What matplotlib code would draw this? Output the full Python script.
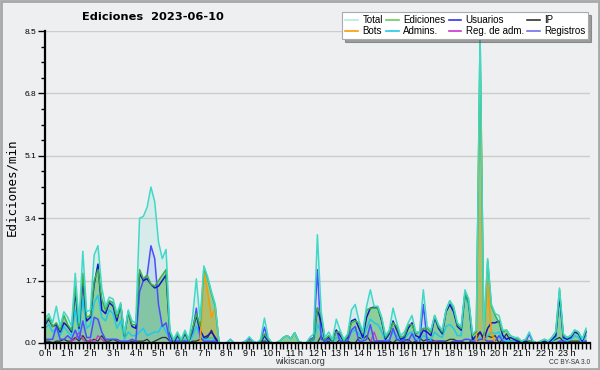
import matplotlib
matplotlib.use("Agg")
import matplotlib.pyplot as plt
import numpy as np
from matplotlib.patches import Rectangle
from matplotlib.ticker import MultipleLocator

# 10-minute samples, 6 per hour, 0 h .. 23 h 50
total = [
    0.65, 0.8, 0.55, 1.0, 0.45, 0.85,
    0.7, 0.45, 1.9, 0.55, 2.5, 0.85,
    0.9, 2.4, 2.65, 1.5, 1.0, 1.25,
    1.2, 0.8, 1.1, 0.25, 0.9, 0.6,
    0.55, 3.4, 3.45, 3.7, 4.25, 3.85,
    2.75, 2.3, 2.55, 0.35, 0.1, 0.3,
    0.1, 0.35, 0.1, 0.7, 1.75, 0.6,
    2.1, 1.8, 1.4, 1.05, 0.0, 0.0,
    0.0, 0.1, 0.0, 0.0, 0.0, 0.05,
    0.17, 0.05, 0.0, 0.1, 0.68, 0.15,
    0.0, 0.0, 0.05, 0.15, 0.2, 0.12,
    0.28, 0.05, 0.0, 0.0, 0.15, 0.25,
    2.95, 0.85, 0.15, 0.3, 0.1, 0.65,
    0.35, 0.1, 0.25, 0.9, 1.05, 0.6,
    0.3, 1.0, 1.45, 1.0, 1.0, 0.7,
    0.2, 0.35, 0.95, 0.55, 0.2, 0.3,
    0.55, 0.75, 0.3, 0.3, 1.45, 0.45,
    0.35, 0.75, 0.5, 0.35, 0.9, 1.15,
    1.0, 0.55, 0.45, 1.45, 1.2, 0.25,
    0.35, 8.45, 0.3, 2.3, 1.05, 0.8,
    0.75, 0.35, 0.35, 0.2, 0.15, 0.15,
    0.05, 0.1, 0.3, 0.05, 0.0, 0.05,
    0.1, 0.05, 0.15, 0.3, 1.5, 0.25,
    0.15, 0.2, 0.35, 0.3, 0.1, 0.4,
]
ediciones = [
    0.55, 0.7, 0.45, 0.55, 0.35, 0.75,
    0.5, 0.35, 1.55, 0.45, 1.9, 0.7,
    0.75, 1.7, 2.0, 1.2, 0.9, 1.15,
    1.1, 0.7, 1.05, 0.2, 0.85, 0.5,
    0.5, 2.0, 1.75, 1.85, 1.6, 1.55,
    1.7, 1.85, 2.0, 0.3, 0.05, 0.25,
    0.05, 0.3, 0.05, 0.4, 0.8, 0.45,
    2.05, 1.75, 1.35, 1.0, 0.0, 0.0,
    0.0, 0.0, 0.0, 0.0, 0.0, 0.0,
    0.05, 0.0, 0.0, 0.05, 0.25, 0.1,
    0.0, 0.0, 0.05, 0.15, 0.2, 0.12,
    0.28, 0.05, 0.0, 0.0, 0.05, 0.1,
    0.95, 0.75, 0.1, 0.2, 0.05, 0.3,
    0.3, 0.05, 0.2, 0.55, 0.6, 0.55,
    0.25, 0.9, 0.95, 0.95, 0.95, 0.65,
    0.15, 0.3, 0.55, 0.45, 0.15, 0.2,
    0.5, 0.5, 0.25, 0.3, 0.4, 0.4,
    0.3, 0.75, 0.45, 0.3, 0.9, 1.15,
    0.95, 0.5, 0.4, 1.35, 1.1, 0.2,
    0.3, 8.35, 0.2, 2.25, 1.0, 0.75,
    0.55, 0.3, 0.35, 0.2, 0.15, 0.1,
    0.05, 0.1, 0.05, 0.05, 0.0, 0.05,
    0.1, 0.05, 0.15, 0.3, 1.45, 0.2,
    0.15, 0.2, 0.35, 0.3, 0.1, 0.35,
]
usuarios = [
    0.5, 0.65, 0.45, 0.5, 0.3, 0.55,
    0.45, 0.3, 1.4, 0.4, 1.7, 0.6,
    0.7, 1.6, 2.15, 0.9, 0.8, 1.1,
    1.0, 0.6, 1.05, 0.2, 0.85, 0.45,
    0.4, 1.9, 1.7, 1.75, 1.6, 1.5,
    1.55, 1.7, 1.85, 0.25, 0.0, 0.2,
    0.05, 0.25, 0.05, 0.35, 0.75, 0.35,
    0.15, 0.2, 0.3, 0.15, 0.0, 0.0,
    0.0, 0.0, 0.0, 0.0, 0.0, 0.0,
    0.05, 0.0, 0.0, 0.0, 0.2, 0.05,
    0.0, 0.0, 0.0, 0.0, 0.0, 0.0,
    0.0, 0.0, 0.0, 0.0, 0.05, 0.1,
    0.95, 0.55, 0.1, 0.15, 0.05, 0.35,
    0.2, 0.05, 0.15, 0.6, 0.65, 0.4,
    0.15, 0.7, 0.95, 0.98, 0.95, 0.6,
    0.1, 0.25, 0.6, 0.35, 0.1, 0.15,
    0.4, 0.55, 0.2, 0.15, 0.35, 0.3,
    0.2, 0.7, 0.4, 0.25, 0.85, 1.05,
    0.85, 0.45, 0.35, 1.35, 1.1, 0.1,
    0.2, 0.3, 0.1, 0.4, 0.55, 0.55,
    0.6, 0.2, 0.1, 0.15, 0.1, 0.05,
    0.0, 0.05, 0.05, 0.0, 0.0, 0.0,
    0.05, 0.0, 0.1, 0.2, 1.3, 0.15,
    0.1, 0.15, 0.3, 0.25, 0.05, 0.3,
]
ip = [
    0.05, 0.05, 0.0, 0.05, 0.05, 0.1,
    0.05, 0.05, 0.15, 0.05, 0.2, 0.05,
    0.05, 0.1, 0.05, 0.2, 0.05, 0.05,
    0.1, 0.05, 0.0, 0.0, 0.0, 0.05,
    0.05, 0.05, 0.05, 0.1, 0.0, 0.05,
    0.1, 0.15, 0.15, 0.05, 0.05, 0.05,
    0.0, 0.05, 0.0, 0.05, 0.05, 0.1,
    0.1, 0.15, 0.35, 0.1, 0.0, 0.0,
    0.0, 0.0, 0.0, 0.0, 0.0, 0.0,
    0.0, 0.0, 0.0, 0.05, 0.05, 0.05,
    0.0, 0.0, 0.05, 0.15, 0.2, 0.12,
    0.28, 0.05, 0.0, 0.0, 0.0, 0.0,
    0.0, 0.2, 0.0, 0.05, 0.0, 0.0,
    0.1, 0.0, 0.05, 0.0, 0.0, 0.15,
    0.1, 0.2, 0.05, 0.0, 0.05, 0.05,
    0.05, 0.05, 0.0, 0.1, 0.05, 0.05,
    0.1, 0.0, 0.05, 0.15, 0.05, 0.1,
    0.1, 0.05, 0.05, 0.05, 0.05, 0.1,
    0.1, 0.05, 0.05, 0.0, 0.0, 0.1,
    0.1, 0.3, 0.1, 0.2, 0.15, 0.2,
    0.0, 0.1, 0.25, 0.05, 0.05, 0.05,
    0.05, 0.05, 0.0, 0.05, 0.0, 0.05,
    0.05, 0.05, 0.05, 0.1, 0.15, 0.05,
    0.05, 0.05, 0.05, 0.05, 0.05, 0.05,
]
bots = [0.0] * 42 + [1.9, 1.4, 0.7, 0.95, 0.0, 0.0] + [0.0] * 66 + \
       [0.0, 7.75, 0.05, 1.65, 0.3, 0.0] + [0.0] * 24
admins = [
    0.4, 0.5, 0.3, 0.4, 0.2, 0.45,
    0.3, 0.2, 0.9, 0.3, 1.2, 0.4,
    0.5, 1.1, 1.3, 0.7, 0.6, 0.9,
    0.8, 0.4, 0.6, 0.1, 0.3, 0.2,
    0.2, 0.3, 0.4, 0.2, 0.25, 0.3,
    0.3, 0.5, 0.3, 0.1, 0.0, 0.1,
    0.0, 0.1, 0.0, 0.2, 0.45, 0.2,
    0.1, 0.1, 0.15, 0.05, 0.0, 0.0,
    0.0, 0.0, 0.0, 0.0, 0.0, 0.0,
    0.0, 0.0, 0.0, 0.0, 0.2, 0.0,
    0.0, 0.0, 0.0, 0.0, 0.0, 0.0,
    0.0, 0.0, 0.0, 0.0, 0.0, 0.05,
    0.5, 0.3, 0.05, 0.1, 0.0, 0.15,
    0.1, 0.0, 0.1, 0.3, 0.35, 0.25,
    0.1, 0.4, 0.65, 0.55, 0.5, 0.3,
    0.05, 0.1, 0.3, 0.2, 0.05, 0.1,
    0.25, 0.3, 0.1, 0.1, 0.2, 0.15,
    0.1, 0.3, 0.2, 0.15, 0.45, 0.5,
    0.4, 0.2, 0.2, 1.3, 1.0, 0.05,
    0.1, 0.15, 0.05, 0.2, 0.3, 0.25,
    0.3, 0.1, 0.05, 0.05, 0.05, 0.0,
    0.0, 0.0, 0.0, 0.0, 0.0, 0.0,
    0.0, 0.0, 0.05, 0.15, 1.35, 0.1,
    0.05, 0.1, 0.2, 0.15, 0.0, 0.2,
]
reg_adm = [0.0] * 6 + [0.0, 0.05, 0.1, 0.3, 0.1, 0.0] + \
          [0.1, 0.0, 0.2, 0.1, 0.0, 0.0] + [0.0] * 66 + \
          [0.0, 0.0, 0.0, 0.3, 0.0, 0.0] + [0.0] * 12 + \
          [0.0, 0.05, 0.0, 0.0, 0.0, 0.0] + [0.0] * 36
registros = [
    0.1, 0.1, 0.1, 0.45, 0.1, 0.1,
    0.2, 0.1, 0.35, 0.1, 0.6, 0.15,
    0.15, 0.7, 0.65, 0.3, 0.1, 0.1,
    0.1, 0.1, 0.05, 0.05, 0.05, 0.1,
    0.05, 1.4, 1.7, 1.85, 2.65, 2.3,
    1.05, 0.45, 0.55, 0.05, 0.05, 0.05,
    0.05, 0.05, 0.05, 0.3, 0.95, 0.15,
    0.05, 0.05, 0.05, 0.05, 0.0, 0.0,
    0.0, 0.1, 0.0, 0.0, 0.0, 0.05,
    0.12, 0.05, 0.0, 0.05, 0.43, 0.05,
    0.0, 0.0, 0.0, 0.0, 0.0, 0.0,
    0.0, 0.0, 0.0, 0.0, 0.1, 0.15,
    2.0, 0.1, 0.05, 0.1, 0.05, 0.35,
    0.05, 0.05, 0.05, 0.35, 0.45, 0.05,
    0.05, 0.1, 0.5, 0.05, 0.05, 0.05,
    0.05, 0.05, 0.4, 0.1, 0.05, 0.1,
    0.05, 0.25, 0.05, 0.0, 1.05, 0.05,
    0.05, 0.0, 0.05, 0.05, 0.0, 0.0,
    0.05, 0.05, 0.05, 0.1, 0.1, 0.05,
    0.05, 0.1, 0.1, 0.05, 0.05, 0.05,
    0.2, 0.05, 0.0, 0.0, 0.0, 0.05,
    0.0, 0.0, 0.25, 0.0, 0.0, 0.0,
    0.0, 0.0, 0.0, 0.0, 0.05, 0.05,
    0.0, 0.0, 0.0, 0.0, 0.0, 0.05,
]
hour_labels = [f"{h} h" for h in range(24)]
y_ticks = [0.0, 1.7, 3.4, 5.1, 6.8, 8.5]

n = len(total)
t = np.arange(n) / 6.0

SANS = "Liberation Sans"
BG = "#eeeff0"
fig = plt.figure(figsize=(6, 3.7), dpi=100, facecolor=BG)
ax = fig.add_axes([0.075, 0.073, 0.908, 0.843], facecolor=BG)

C_TOTAL = "#3fd9c9"
C_ED = "#3cb043"
C_USU = "#1414c8"
C_IP = "#333333"
C_BOT = "#ff9900"
C_ADM = "#22c8e8"
C_RADM = "#cc33cc"
C_REG = "#4d4dff"

ax.fill_between(t, total, color=C_TOTAL, alpha=0.13, lw=0)
ax.fill_between(t, ediciones, color=C_ED, alpha=0.48, lw=0)
ax.fill_between(t, registros, color="#4d7fff", alpha=0.12, lw=0)
ax.fill_between(t, bots, color=C_BOT, alpha=0.3, lw=0)

lw = 1.1
ax.plot(t, ip, color=C_IP, lw=0.9)
ax.plot(t, reg_adm, color=C_RADM, lw=0.9)
ax.plot(t, admins, color=C_ADM, lw=lw)
ax.plot(t, registros, color=C_REG, lw=lw)
ax.plot(t, usuarios, color=C_USU, lw=lw)
ax.plot(t, bots, color=C_BOT, lw=lw)
ax.plot(t, ediciones, color=C_ED, lw=lw)
ax.plot(t, total, color=C_TOTAL, lw=lw)

ax.set_xlim(0, 24)
ax.set_ylim(0, 8.5)
ax.set_yticks(y_ticks)
ax.set_yticklabels([f"{v:.1f}" for v in y_ticks], fontsize=6, family=SANS)
ax.yaxis.set_minor_locator(MultipleLocator(0.425))
ax.set_xticks(np.arange(24))
ax.set_xticklabels(hour_labels, fontsize=6.5, family=SANS)
ax.xaxis.set_minor_locator(MultipleLocator(1 / 6))
ax.tick_params(axis="x", which="major", length=4, width=1, pad=0.5)
ax.tick_params(axis="x", which="minor", length=4, width=1)
ax.tick_params(axis="y", which="major", length=5, width=1, pad=1)
ax.tick_params(axis="y", which="minor", length=3, width=1)

ax.grid(axis="y", which="major", color="#cccccc", lw=1)
ax.set_axisbelow(True)
for s in ["top", "right"]:
    ax.spines[s].set_visible(False)
ax.spines["left"].set_linewidth(1.6)
ax.spines["bottom"].set_linewidth(1.6)

ax.set_ylabel("Ediciones/min", fontsize=9, family="DejaVu Sans Mono", labelpad=5)
fig.text(0.255, 0.953, "Ediciones  2023-06-10", fontsize=8.2, fontweight="bold",
         ha="center", va="center")
fig.text(0.5, 0.023, "wikiscan.org", fontsize=6.5, family=SANS, ha="center",
         va="center", color="#333333")
fig.text(0.983, 0.021, "CC BY-SA 3.0", fontsize=4.8, family=SANS, ha="right",
         va="center", color="#333333")

handles = [
    plt.Line2D([], [], color="#aaeee8", lw=1.2, label="Total"),
    plt.Line2D([], [], color=C_BOT, lw=1.2, label="Bots"),
    plt.Line2D([], [], color="#66cc66", lw=1.2, label="Ediciones"),
    plt.Line2D([], [], color=C_ADM, lw=1.2, label="Admins."),
    plt.Line2D([], [], color="#3333ee", lw=1.2, label="Usuarios"),
    plt.Line2D([], [], color=C_RADM, lw=1.2, label="Reg. de adm."),
    plt.Line2D([], [], color=C_IP, lw=1.2, label="IP"),
    plt.Line2D([], [], color="#7070f0", lw=1.2, label="Registros"),
]
leg = fig.legend(handles=handles, loc="upper right", bbox_to_anchor=(0.984, 0.972),
                 ncol=4, prop={"family": SANS, "size": 7}, handlelength=1.3,
                 handletextpad=0.45, columnspacing=0.35, labelspacing=0.1,
                 borderpad=0.3, borderaxespad=0.2,
                 fancybox=False, shadow=True, framealpha=1, edgecolor="#aaaaaa")
leg.get_frame().set_linewidth(0.8)

fig.patches.append(Rectangle((0.0015, 0.0025), 0.997, 0.995, transform=fig.transFigure,
                             fill=False, edgecolor="#a8a8a8", lw=2))
fig.savefig("out.png", dpi=100, facecolor=BG)
